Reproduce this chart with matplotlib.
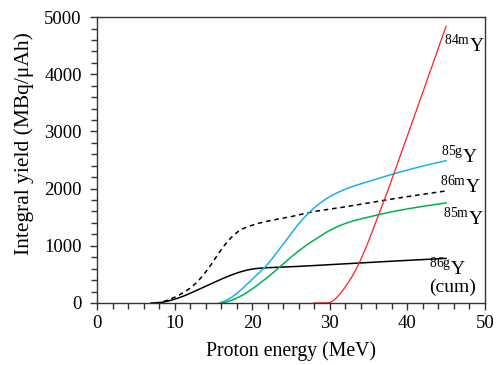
import matplotlib
matplotlib.use('Agg')
import matplotlib.pyplot as plt
from matplotlib.ticker import MultipleLocator
import numpy as np

# Font setup (Times-like serif)
plt.rcParams['font.family'] = ['Liberation Serif', 'DejaVu Serif']
plt.rcParams['mathtext.fontset'] = 'custom'
plt.rcParams['mathtext.rm'] = 'Liberation Serif'

# Data
e_86g = [7, 8, 9, 10, 11, 12, 13, 14, 15, 16, 17, 18, 19, 20, 21, 22, 24, 27, 30, 35, 40, 45]
y_86g = [0, 5, 28, 65, 112, 168, 230, 292, 354, 415, 472, 522, 563, 592, 608, 617, 628, 647, 670, 708, 745, 780]

e_86m = [7.5, 8.5, 9, 10, 11, 12, 13, 14, 15, 16, 17, 18, 19, 20, 21, 22.7, 25, 27.4, 30, 35, 40, 45]
y_86m = [0, 20, 45, 100, 170, 260, 380, 540, 730, 930, 1100, 1230, 1310, 1360, 1400, 1450, 1510, 1585, 1640, 1750, 1860, 1960]

e_85g = [15.8, 17, 18, 19, 20, 21, 22, 23, 24, 25, 26, 27, 28, 29, 30, 31, 32, 33, 35, 36.5, 38, 40, 42, 45]
y_85g = [0, 70, 165, 285, 415, 540, 680, 850, 1030, 1210, 1385, 1535, 1665, 1770, 1860, 1930, 1990, 2040, 2125, 2188, 2250, 2325, 2395, 2490]

e_85m = [16.2, 17, 18, 19, 20, 21, 22, 23, 24, 25, 26, 27, 28, 29, 30, 31, 32, 34, 36, 38, 40, 42, 45]
y_85m = [0, 30, 85, 155, 245, 345, 450, 565, 685, 800, 910, 1010, 1100, 1190, 1270, 1335, 1390, 1470, 1535, 1595, 1645, 1690, 1750]

e_84m = [28, 29.5, 30, 31, 32, 33, 34, 35, 36, 37, 38, 39, 40, 41, 42, 43, 44, 45]
y_84m = [0, 0, 10, 110, 280, 490, 760, 1080, 1440, 1790, 2160, 2540, 2920, 3300, 3690, 4070, 4460, 4840]


def smooth(xs, ys, n=400):
    # Natural cubic spline through the read points
    x = np.asarray(xs, float)
    y = np.asarray(ys, float)
    k = len(x)
    h = np.diff(x)
    A = np.zeros((k, k))
    r = np.zeros(k)
    A[0, 0] = A[-1, -1] = 1
    for i in range(1, k - 1):
        A[i, i - 1] = h[i - 1]
        A[i, i] = 2 * (h[i - 1] + h[i])
        A[i, i + 1] = h[i]
        r[i] = 6 * ((y[i + 1] - y[i]) / h[i] - (y[i] - y[i - 1]) / h[i - 1])
    M = np.linalg.solve(A, r)
    xn = np.linspace(x[0], x[-1], n)
    i = np.clip(np.searchsorted(x, xn) - 1, 0, k - 2)
    a = x[i + 1] - xn
    b = xn - x[i]
    hi = h[i]
    yn = (M[i] * a**3 + M[i + 1] * b**3) / (6 * hi) \
        + (y[i] / hi - M[i] * hi / 6) * a + (y[i + 1] / hi - M[i + 1] * hi / 6) * b
    return xn, np.maximum(yn, 0)


fig = plt.figure(figsize=(4.96, 3.65), dpi=100)
ax = fig.add_axes([0.1956, 0.170, 0.782, 0.783])

ax.plot(*smooth(e_86g, y_86g), color='black', lw=1.1)
ax.plot(*smooth(e_86m, y_86m), color='black', lw=1.1, dashes=(3, 2.5))
ax.plot(*smooth(e_85g, y_85g), color='#1ab0ee', lw=1.1)
ax.plot(*smooth(e_85m, y_85m), color='#00b050', lw=1.1)
ax.plot(*smooth(e_84m, y_84m), color='#ff2020', lw=0.9)

# Curve labels
lab_kw = dict(fontsize=14, va='center', ha='left')
ax.text(44.7, 4520, r'$^{\mathrm{84m}}$Y', **lab_kw)
ax.text(44.4, 2580, r'$^{\mathrm{85g}}$Y', **lab_kw)
ax.text(44.2, 2050, r'$^{\mathrm{86m}}$Y', **lab_kw)
ax.text(44.6, 1490, r'$^{\mathrm{85m}}$Y', **lab_kw)
ax.text(42.8, 615, r'$^{\mathrm{86g}}$Y', **lab_kw)
ax.text(42.8, 270, '(cum)', **lab_kw)

ax.set_xlim(0, 50)
ax.set_ylim(0, 5000)
ax.xaxis.set_major_locator(MultipleLocator(10))
ax.xaxis.set_minor_locator(MultipleLocator(2))
ax.yaxis.set_major_locator(MultipleLocator(1000))
ax.yaxis.set_minor_locator(MultipleLocator(200))
ax.tick_params(which='both', direction='out', top=False, right=False,
               labelsize=13.5, color='#333333', width=1.0)
ax.tick_params(which='major', length=5)
ax.tick_params(which='minor', length=4)
ax.tick_params(axis='y', which='major', pad=6)
for s in ax.spines.values():
    s.set_color('#333333')
    s.set_linewidth(1.0)

ax.set_xlabel('Proton energy (MeV)', fontsize=14.2, labelpad=7)
ax.set_ylabel('Integral yield (MBq/\u03bcAh)', fontsize=15.5)
ax.yaxis.set_label_coords(-0.162, 0.558)

fig.savefig('out.png', dpi=100)
